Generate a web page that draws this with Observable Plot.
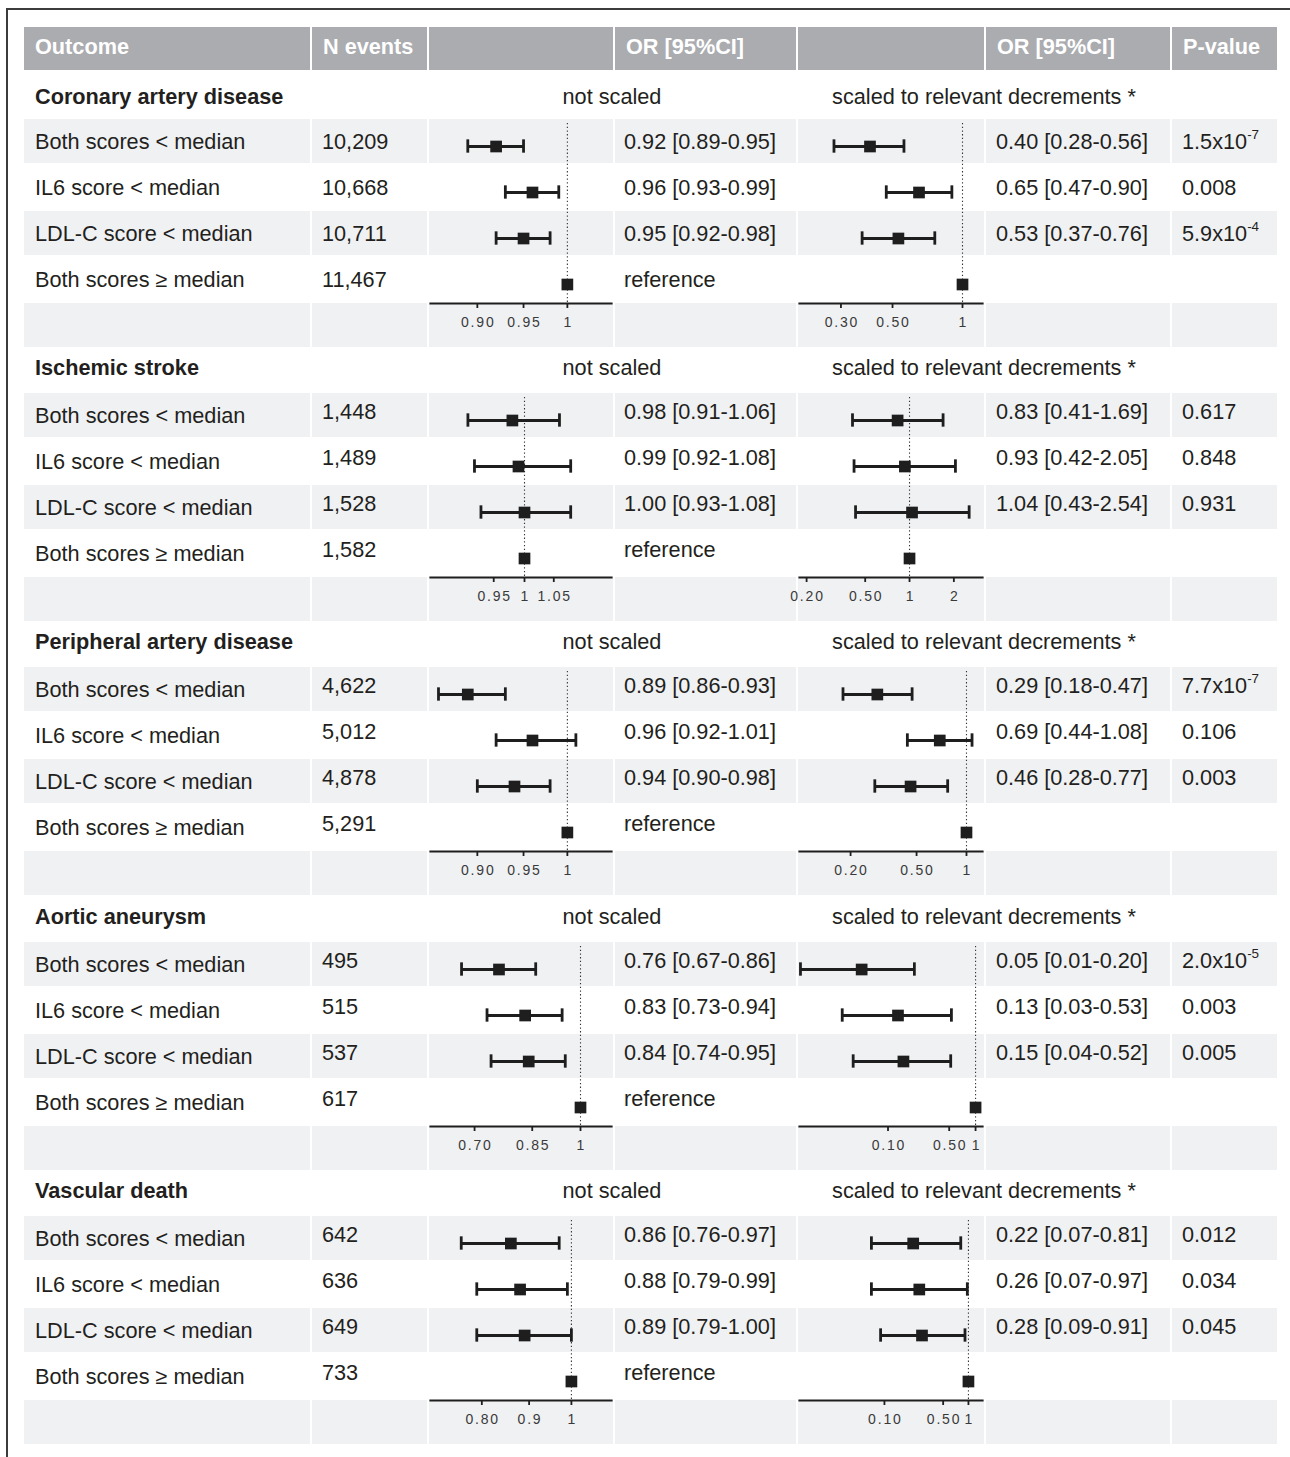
<!DOCTYPE html>
<html><head><meta charset="utf-8">
<script src="https://cdn.jsdelivr.net/npm/d3@7"></script>
<script src="https://cdn.jsdelivr.net/npm/@observablehq/plot@0.6"></script>
<style>
body{margin:0;background:#fff;}
#root{position:relative;width:1290px;height:1457px;overflow:hidden;font-family:"Liberation Sans",Arial,Helvetica,sans-serif;color:#231f20;font-size:21.7px;background:#fff;}
.t{position:absolute;white-space:nowrap;line-height:30px;height:30px;}
.bg{position:absolute;}
.b{font-weight:bold;}
.h{font-weight:bold;color:#fff;}
.c{transform:translateX(-50%);}
.pl{position:absolute;}
.pl svg text{letter-spacing:1.8px;}
sup{font-size:0.62em;position:relative;top:-0.1em;vertical-align:super;line-height:0;}
</style></head><body><div id="root"></div>
<script>
// ---------------- data ----------------
const headers = ["Outcome", "N events", "", "OR [95%CI]", "", "OR [95%CI]", "P-value"];
const outcomes = ["Coronary artery disease", "Ischemic stroke", "Peripheral artery disease", "Aortic aneurysm", "Vascular death"];
const groups = ["Both scores < median", "IL6 score < median", "LDL-C score < median", "Both scores \u2265 median"];
const subNotScaled = "not scaled";
const subScaled = "scaled to relevant decrements *";
const referenceLabel = "reference";
const nEvents = [
  ["10,209", "10,668", "10,711", "11,467"],
  ["1,448", "1,489", "1,528", "1,582"],
  ["4,622", "5,012", "4,878", "5,291"],
  ["495", "515", "537", "617"],
  ["642", "636", "649", "733"]
];
const orNotScaled = [[0.92, 0.96, 0.95], [0.98, 0.99, 1.00], [0.89, 0.96, 0.94], [0.76, 0.83, 0.84], [0.86, 0.88, 0.89]];
const loNotScaled = [[0.89, 0.93, 0.92], [0.91, 0.92, 0.93], [0.86, 0.92, 0.90], [0.67, 0.73, 0.74], [0.76, 0.79, 0.79]];
const hiNotScaled = [[0.95, 0.99, 0.98], [1.06, 1.08, 1.08], [0.93, 1.01, 0.98], [0.86, 0.94, 0.95], [0.97, 0.99, 1.00]];
const orScaled = [[0.40, 0.65, 0.53], [0.83, 0.93, 1.04], [0.29, 0.69, 0.46], [0.05, 0.13, 0.15], [0.22, 0.26, 0.28]];
const loScaled = [[0.28, 0.47, 0.37], [0.41, 0.42, 0.43], [0.18, 0.44, 0.28], [0.01, 0.03, 0.04], [0.07, 0.07, 0.09]];
const hiScaled = [[0.56, 0.90, 0.76], [1.69, 2.05, 2.54], [0.47, 1.08, 0.77], [0.20, 0.53, 0.52], [0.81, 0.97, 0.91]];
const pValues = [
  ["1.5x10^-7", "0.008", "5.9x10^-4"],
  ["0.617", "0.848", "0.931"],
  ["7.7x10^-7", "0.106", "0.003"],
  ["2.0x10^-5", "0.003", "0.005"],
  ["0.012", "0.034", "0.045"]
];
// axis domains and ticks
const domNotScaled = [[0.852, 1.053], [0.855, 1.156], [0.852, 1.053], [0.6035, 1.11], [0.704, 1.105]];
const domScaled = [[0.199, 1.219], [0.179, 3.13], [0.0984, 1.249], [0.00975, 1.2], [0.00975, 1.47]];
const ticksNotScaled = [[0.9, 0.95, 1], [0.95, 1, 1.05], [0.9, 0.95, 1], [0.7, 0.85, 1], [0.8, 0.9, 1]];
const tickLabelsNotScaled = [["0.90", "0.95", "1"], ["0.95", "1", "1.05"], ["0.90", "0.95", "1"], ["0.70", "0.85", "1"], ["0.80", "0.9", "1"]];
const ticksScaled = [[0.3, 0.5, 1], [0.2, 0.5, 1, 2], [0.2, 0.5, 1], [0.1, 0.5, 1], [0.1, 0.5, 1]];
const tickLabelsScaled = [["0.30", "0.50", "1"], ["0.20", "0.50", "1", "2"], ["0.20", "0.50", "1"], ["0.10", "0.50", "1"], ["0.10", "0.50", "1"]];
const referenceOR = 1;

// ---------------- layout ----------------
const root = document.getElementById("root");
const cols = [[24, 286], [312, 115], [429, 184], [615, 181], [798, 186], [986, 184], [1172, 105]];
const rowsTop = [119, 393, 667, 942, 1216];
const rowH = 46, axisH = 44;
const GRAY = "#f0f1f3", HEAD = "#abacb0", INK = "#1e1e1e";

function box(x, y, w, h, color) {
  const d = document.createElement("div");
  d.className = "bg";
  Object.assign(d.style, {left: x + "px", top: y + "px", width: w + "px", height: h + "px", background: color});
  root.appendChild(d);
}
function text(str, x, cy, cls, html) {
  const d = document.createElement("div");
  d.className = "t " + (cls || "");
  d.style.left = x + "px";
  d.style.top = (cy - 15) + "px";
  if (html) d.innerHTML = str; else d.textContent = str;
  root.appendChild(d);
}
function fmt(v) { return v.toFixed(2); }
function pHtml(s) {
  const m = s.split("^");
  return m.length > 1 ? m[0] + "<sup>" + m[1] + "</sup>" : m[0];
}

// frame
const fr = document.createElement("div");
Object.assign(fr.style, {position: "absolute", left: "6px", top: "8px", width: "1300px", height: "1460px",
  borderLeft: "2px solid #3c3c3c", borderTop: "2px solid #3c3c3c"});
root.appendChild(fr);

// header
cols.forEach(([x, w], i) => {
  box(x, 27, w, 43, HEAD);
  if (headers[i]) text(headers[i], x + 11, 47, "h");
});

function forest(est, lo, hi, dom, ticks, labels, width) {
  const data = est.map((v, j) => ({row: j, or: v, lo: lo[j], hi: hi[j]}));
  const all = data.concat([{row: 3, or: referenceOR}]);
  const tickData = ticks.map((t, i) => ({v: t, label: labels[i]}));
  const cap = 0.145;
  const yBottom = 3.5, tickLen = 5 / rowH;
  return Plot.plot({
    width, height: 4 * rowH + axisH,
    marginLeft: 1, marginRight: 2, marginTop: 0, marginBottom: axisH,
    x: {type: "log", domain: dom, axis: null},
    y: {domain: [-0.5, 3.5], range: [0, 4 * rowH], axis: null},
    style: {background: "transparent", overflow: "visible", color: "#333"},
    marks: [
      Plot.ruleX([referenceOR], {insetTop: 4, stroke: "#333", strokeWidth: 1.1, strokeDasharray: "1.3,2.4"}),
      Plot.ruleY(data, {x1: "lo", x2: "hi", y: "row", dy: 4, stroke: INK, strokeWidth: 3}),
      Plot.ruleX(data, {x: "lo", y1: d => d.row - cap, y2: d => d.row + cap, dy: 4, stroke: INK, strokeWidth: 2.8}),
      Plot.ruleX(data, {x: "hi", y1: d => d.row - cap, y2: d => d.row + cap, dy: 4, stroke: INK, strokeWidth: 2.8}),
      Plot.dot(all, {x: "or", y: "row", dy: 4, symbol: "square", r: 6.6, fill: INK}),
      Plot.frame({anchor: "bottom", stroke: INK, strokeWidth: 2.2}),
      Plot.ruleX(tickData, {x: "v", y1: yBottom, y2: yBottom + tickLen, stroke: INK, strokeWidth: 1.8}),
      Plot.text(tickData, {x: "v", text: "label", frameAnchor: "bottom", dy: 23, dx: 0.9, fill: "#3a3a3a",
        fontSize: 14, fontFamily: "'Liberation Sans',Arial,sans-serif",
        textAnchor: "middle"})
    ]
  });
}

outcomes.forEach((name, k) => {
  const top = rowsTop[k];
  const tcy = top - 25 + (k === 0 ? 3 : 0);
  text(name, 35, tcy, "b");
  text(subNotScaled, 612, tcy, "c");
  text(subScaled, 984, tcy, "c");
  const numDy = k === 0 ? 0 : -4;
  groups.forEach((g, j) => {
    const rt = top + j * rowH;
    if (j % 2 === 0) cols.forEach(([x, w]) => box(x, rt, w, rowH - 2, GRAY));
    const cy = rt + 23;
    text(g, 35, cy);
    text(nEvents[k][j], cols[1][0] + 10, cy + numDy);
    if (j < 3) {
      text(fmt(orNotScaled[k][j]) + " [" + fmt(loNotScaled[k][j]) + "-" + fmt(hiNotScaled[k][j]) + "]", cols[3][0] + 9, cy + numDy);
      text(fmt(orScaled[k][j]) + " [" + fmt(loScaled[k][j]) + "-" + fmt(hiScaled[k][j]) + "]", cols[5][0] + 10, cy + numDy);
      text(pHtml(pValues[k][j]), cols[6][0] + 10, cy + numDy, "", true);
    } else {
      text(referenceLabel, cols[3][0] + 9, cy + numDy);
    }
  });
  cols.forEach(([x, w]) => box(x, top + 4 * rowH, w, axisH, GRAY));
  [[2, orNotScaled, loNotScaled, hiNotScaled, domNotScaled, ticksNotScaled, tickLabelsNotScaled],
   [4, orScaled, loScaled, hiScaled, domScaled, ticksScaled, tickLabelsScaled]].forEach(([ci, e, l, h, d, t, tl]) => {
    const holder = document.createElement("div");
    holder.className = "pl";
    holder.style.left = cols[ci][0] + "px";
    holder.style.top = top + "px";
    holder.style.width = cols[ci][1] + "px";
    holder.appendChild(forest(e[k], l[k], h[k], d[k], t[k], tl[k], cols[ci][1]));
    root.appendChild(holder);
  });
});
</script></body></html>
